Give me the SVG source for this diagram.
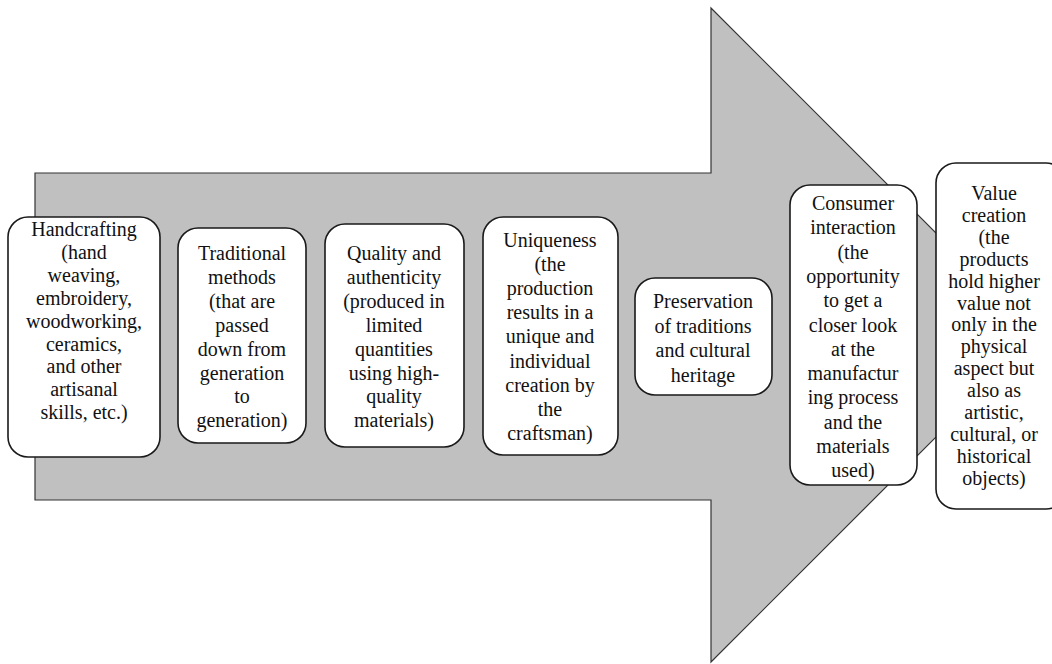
<svg xmlns="http://www.w3.org/2000/svg" width="1052" height="664" viewBox="0 0 1052 664">
<style>
.arrow{fill:#c0c0c0;stroke:#333;stroke-width:1.2}
.box{fill:#fff;stroke:#1a1a1a;stroke-width:1.6}
text{font-family:"Liberation Serif","Times New Roman",serif;font-size:20px;fill:#111;text-anchor:middle}
</style>
<rect width="1052" height="664" fill="#fff"/>
<g id="arrow">
<polygon class="arrow" points="35,173 711,173 711,8 1038,335 711,662 711,500 35,500"/>
</g>
<g id="connectors"></g>
<g id="n1">
<rect class="box" x="8" y="217" width="152" height="240" rx="20"/>
<text><tspan x="84" y="236">Handcrafting</tspan><tspan x="84" dy="22.9">(hand</tspan><tspan x="84" dy="22.9">weaving,</tspan><tspan x="84" dy="22.9">embroidery,</tspan><tspan x="84" dy="22.9">woodworking,</tspan><tspan x="84" dy="22.9">ceramics,</tspan><tspan x="84" dy="22.9">and other</tspan><tspan x="84" dy="22.9">artisanal</tspan><tspan x="84" dy="22.9">skills, etc.)</tspan></text>
</g>
<g id="n2">
<rect class="box" x="178" y="228" width="128" height="215" rx="20"/>
<text><tspan x="242" y="260">Traditional</tspan><tspan x="242" dy="23.9">methods</tspan><tspan x="242" dy="23.9">(that are</tspan><tspan x="242" dy="23.9">passed</tspan><tspan x="242" dy="23.9">down from</tspan><tspan x="242" dy="23.9">generation</tspan><tspan x="242" dy="23.9">to</tspan><tspan x="242" dy="23.9">generation)</tspan></text>
</g>
<g id="n3">
<rect class="box" x="325" y="224" width="139" height="223" rx="20"/>
<text><tspan x="394" y="260">Quality and</tspan><tspan x="394" dy="23.9">authenticity</tspan><tspan x="394" dy="23.9">(produced in</tspan><tspan x="394" dy="23.9">limited</tspan><tspan x="394" dy="23.9">quantities</tspan><tspan x="394" dy="23.9">using high-</tspan><tspan x="394" dy="23.9">quality</tspan><tspan x="394" dy="23.9">materials)</tspan></text>
</g>
<g id="n4">
<rect class="box" x="483" y="217" width="135" height="238" rx="20"/>
<text><tspan x="550" y="247">Uniqueness</tspan><tspan x="550" dy="24.1">(the</tspan><tspan x="550" dy="24.1">production</tspan><tspan x="550" dy="24.1">results in a</tspan><tspan x="550" dy="24.1">unique and</tspan><tspan x="550" dy="24.1">individual</tspan><tspan x="550" dy="24.1">creation by</tspan><tspan x="550" dy="24.1">the</tspan><tspan x="550" dy="24.1">craftsman)</tspan></text>
</g>
<g id="n5">
<rect class="box" x="635" y="278" width="137" height="117" rx="20"/>
<text><tspan x="703" y="308">Preservation</tspan><tspan x="703" dy="24.7">of traditions</tspan><tspan x="703" dy="24.7">and cultural</tspan><tspan x="703" dy="24.7">heritage</tspan></text>
</g>
<g id="n6">
<rect class="box" x="790" y="185" width="127" height="300" rx="20"/>
<text><tspan x="853" y="210">Consumer</tspan><tspan x="853" dy="24.3">interaction</tspan><tspan x="853" dy="24.3">(the</tspan><tspan x="853" dy="24.3">opportunity</tspan><tspan x="853" dy="24.3">to get a</tspan><tspan x="853" dy="24.3">closer look</tspan><tspan x="853" dy="24.3">at the</tspan><tspan x="853" dy="24.3">manufactur</tspan><tspan x="853" dy="24.3">ing process</tspan><tspan x="853" dy="24.3">and the</tspan><tspan x="853" dy="24.3">materials</tspan><tspan x="853" dy="24.3">used)</tspan></text>
</g>
<g id="n7">
<rect class="box" x="936" y="163" width="130" height="346" rx="20"/>
<text><tspan x="994" y="200">Value</tspan><tspan x="994" dy="21.9">creation</tspan><tspan x="994" dy="21.9">(the</tspan><tspan x="994" dy="21.9">products</tspan><tspan x="994" dy="21.9">hold higher</tspan><tspan x="994" dy="21.9">value not</tspan><tspan x="994" dy="21.9">only in the</tspan><tspan x="994" dy="21.9">physical</tspan><tspan x="994" dy="21.9">aspect but</tspan><tspan x="994" dy="21.9">also as</tspan><tspan x="994" dy="21.9">artistic,</tspan><tspan x="994" dy="21.9">cultural, or</tspan><tspan x="994" dy="21.9">historical</tspan><tspan x="994" dy="21.9">objects)</tspan></text>
</g>
</svg>
